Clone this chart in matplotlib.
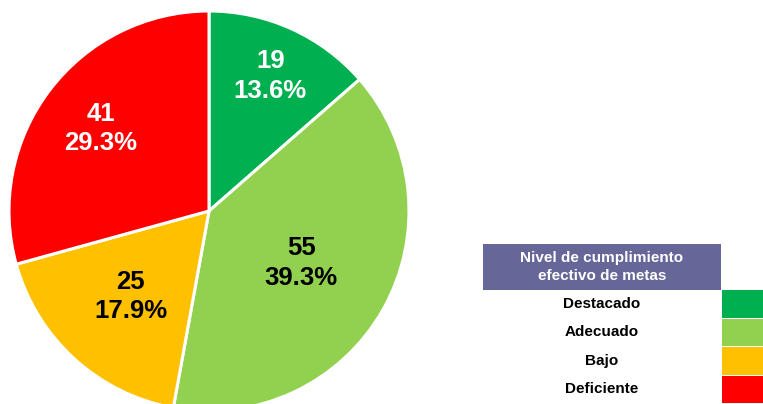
import numpy as np
import matplotlib.pyplot as plt
from matplotlib.patches import Rectangle

plt.rcParams["font.family"] = ["Liberation Sans", "DejaVu Sans"]

# data
categories = ["Destacado", "Adecuado", "Bajo", "Deficiente"]
counts = [19, 55, 25, 41]
colors = ["#00B050", "#92D050", "#FFC000", "#FF0000"]
label_colors = ["white", "black", "black", "white"]
label_dist = [0.74, 0.53, 0.58, 0.68]
legend_title = "Nivel de cumplimiento\nefectivo de metas"

W, H = 763, 404
fig = plt.figure(figsize=(W / 100, H / 100), dpi=100)
ax = fig.add_axes([0, 0, 1, 1])

cx, cy, r = 209, H - 211, 200
wedges, _ = ax.pie(counts, colors=colors, startangle=90, counterclock=False,
                   center=(cx, cy), radius=r, frame=True,
                   wedgeprops=dict(edgecolor="white", linewidth=2.2))

total = sum(counts)
for w, v, tc, d in zip(wedges, counts, label_colors, label_dist):
    ang = np.deg2rad((w.theta1 + w.theta2) / 2)
    x = cx + d * r * np.cos(ang)
    y = cy + d * r * np.sin(ang)
    ax.text(x, y, f"{v}\n{100 * v / total:.1f}%", ha="center", va="center",
            color=tc, fontsize=18.5, fontweight="bold", linespacing=1.3)

# legend table
ax.add_patch(Rectangle((483, H - 290), 238, 46, facecolor="#666699", edgecolor="none"))
ax.text(602, H - 267, legend_title, ha="center", va="center", color="white",
        fontsize=11, fontweight="bold", linespacing=1.3)
row_h = 28.5
for i, (cat, col) in enumerate(zip(categories, colors)):
    top = 290 + i * row_h
    ax.add_patch(Rectangle((722, H - top - row_h + 1), 45, row_h - 1,
                           facecolor=col, edgecolor="none"))
    ax.text(602, H - (top + row_h / 2 - 0.5), cat, ha="center", va="center",
            color="black", fontsize=11, fontweight="bold")

ax.set_xlim(0, W)
ax.set_ylim(0, H)
ax.set_aspect("auto")
ax.axis("off")

fig.savefig("out.png", dpi=100)
